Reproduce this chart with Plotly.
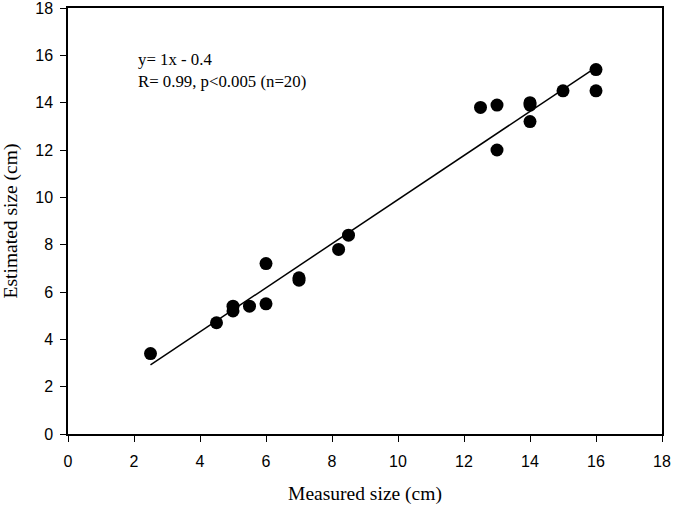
import numpy as np
import plotly.graph_objects as go

measured = [2.5, 4.5, 5, 5, 5.5, 6, 6, 7, 7, 8.2, 8.5,
            12.5, 13, 13, 14, 14, 14, 15, 16, 16]
estimated = [3.4, 4.7, 5.4, 5.2, 5.4, 7.2, 5.5, 6.6, 6.5, 7.8, 8.4,
             13.8, 13.9, 12.0, 14.0, 13.9, 13.2, 14.5, 15.4, 14.5]
ticks = list(range(0, 19, 2))

slope, intercept = np.polyfit(measured, estimated, 1)
x_line = [min(measured), max(measured)]
y_line = [slope * v + intercept for v in x_line]

fig = go.Figure()
fig.add_trace(go.Scatter(x=x_line, y=y_line, mode="lines",
                         line=dict(color="black", width=1.5), showlegend=False))
fig.add_trace(go.Scatter(x=measured, y=estimated, mode="markers",
                         marker=dict(color="black", size=13), showlegend=False))

axis_common = dict(range=[0, 18], tickvals=ticks, showline=True, linecolor="black",
                   linewidth=1.5, mirror=True, ticks="outside", ticklen=6,
                   tickcolor="black", showgrid=False, zeroline=False, automargin=False,
                   ticklabeloverflow="allow",
                   tickfont=dict(family="Liberation Sans", size=16, color="black"))

fig.update_xaxes(**axis_common, ticklabelstandoff=6,
                 title=dict(text="Measured size (cm)",
                            font=dict(family="Liberation Serif", size=19.5, color="black"),
                            standoff=17))
fig.update_yaxes(**axis_common, ticklabelstandoff=4,
                 title=dict(text="Estimated size (cm)",
                            font=dict(family="Liberation Serif", size=19.5, color="black"),
                            standoff=14))

fig.add_annotation(x=2.05, y=16.3, xref="x", yref="y", xanchor="left", yanchor="top",
                   showarrow=False, align="left",
                   text="y= 1x - 0.4<br>R= 0.99, p<0.005 (n=20)",
                   font=dict(family="Liberation Serif", size=16.8, color="black"))

fig.update_layout(width=675, height=510, margin=dict(l=68, r=13, t=8, b=76),
                  plot_bgcolor="white", paper_bgcolor="white")

fig.write_html("out.html", config={"displayModeBar": False},
               post_script="document.body.style.margin='0';document.body.style.overflow='hidden';")
